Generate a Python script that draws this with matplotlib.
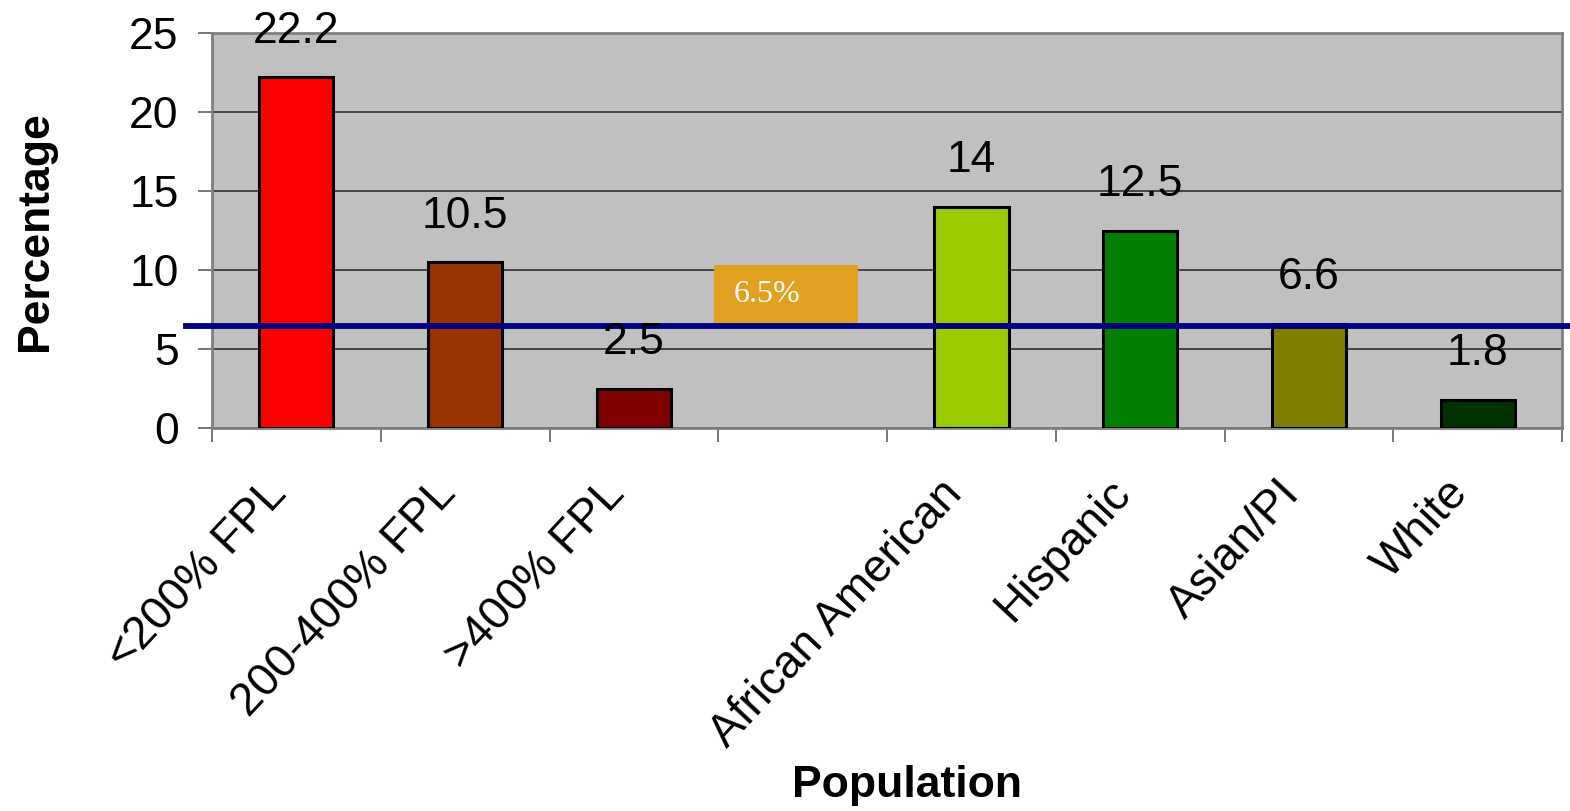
import numpy as np
import matplotlib.pyplot as plt
import matplotlib.transforms as mtransforms
from matplotlib.patches import Rectangle

# Share of population (%) by income level and race/ethnicity
categories = ['<200% FPL', '200-400% FPL', '>400% FPL', '',
              'African American', 'Hispanic', 'Asian/PI', 'White']
values = [22.2, 10.5, 2.5, np.nan, 14, 12.5, 6.6, 1.8]
bar_colors = ['#FF0000', '#993300', '#800000', 'none',
              '#99CC00', '#008000', '#808000', '#003300']
yticks = [0, 5, 10, 15, 20, 25]
overall_rate = 6.5

plt.rcParams['font.family'] = ['Liberation Sans', 'DejaVu Sans']

fig = plt.figure(figsize=(15.7, 8.11), dpi=100)
ax = fig.add_axes([0.135, 0.472, 0.86, 0.487])
ax.set_facecolor('#C0C0C0')

x = np.arange(len(categories))
ax.bar(x, values, width=0.44, color=bar_colors, edgecolor='black',
       linewidth=2.2, zorder=3)

# Value labels above bars
for xi, v in zip(x, values):
    if np.isnan(v):
        continue
    ax.annotate(f'{v:g}', (xi, v), xytext=(0, 25), textcoords='offset points',
                ha='center', va='baseline', fontsize=32, zorder=5,
                annotation_clip=False)

# Overall rate reference line, running past the plot frame
ax.plot([-0.655, 7.55], [overall_rate, overall_rate], color='#000080',
        linewidth=4.2, zorder=4, clip_on=False)

ax.add_patch(Rectangle((2.475, overall_rate + 0.15), 0.855, 3.65,
                       facecolor='#E1A020', edgecolor='none', zorder=4))
ax.text(2.59, overall_rate + 1.97, f'{overall_rate:g}%', color='white',
        fontsize=23, family=['Liberation Serif', 'DejaVu Serif'],
        ha='left', va='center', zorder=5)

ax.set_xlim(-0.5, len(categories) - 0.5)
ax.set_ylim(0, 25)
ax.set_yticks(yticks)
ax.yaxis.grid(True, color='#303030', linewidth=1.2, zorder=1)
ax.tick_params(axis='y', labelsize=32, length=10, width=1.2, color='#606060',
               pad=14)

ax.set_xticks(x)
ax.set_xticklabels(categories, rotation=47, ha='right', va='center',
                   rotation_mode='anchor', fontsize=33)
ax.tick_params(axis='x', which='major', length=0, pad=50)
shift = mtransforms.ScaledTranslation(-12 / 72, 8 / 72, fig.dpi_scale_trans)
for lbl in ax.get_xticklabels():
    lbl.set_transform(lbl.get_transform() + shift)
ax.set_xticks(np.arange(-0.5, len(categories)), minor=True)
ax.tick_params(axis='x', which='minor', length=10, width=1.2, color='#606060')

for spine in ax.spines.values():
    spine.set_color('#808080')
    spine.set_linewidth(2)

ax.set_ylabel('Percentage', fontsize=32, fontweight='bold', labelpad=53)
fig.text(0.578, 0.032, 'Population', fontsize=32, fontweight='bold',
         ha='center', va='center')

fig.savefig('out.png', dpi=100)
